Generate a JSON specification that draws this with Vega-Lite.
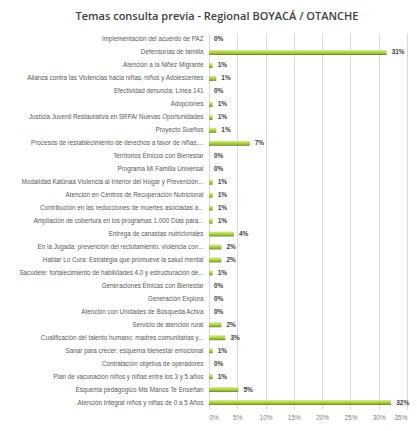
{
  "$schema": "https://vega.github.io/schema/vega-lite/v6.json",
  "autosize": "none",
  "width": 198,
  "height": 376,
  "padding": {"left": 209, "top": 33, "right": 10, "bottom": 22},
  "background": "white",
  "title": {
    "text": "Temas consulta previa - Regional BOYACÁ / OTANCHE",
    "font": "Open Sans",
    "fontSize": 11,
    "fontWeight": 600,
    "color": "#404040",
    "anchor": "middle",
    "frame": "group",
    "dx": -91,
    "offset": 11
  },
  "data": {
    "values": [
      {"tema": "Implementación del acuerdo de PAZ", "pct": 0},
      {"tema": "Defensorías de familia", "pct": 0.314},
      {"tema": "Atención a la Niñez Migrante", "pct": 0.0065},
      {"tema": "Alianza contra las Violencias hacia niñas, niños y Adolescentes", "pct": 0.013},
      {"tema": "Efectividad denuncia: Línea 141", "pct": 0},
      {"tema": "Adopciones", "pct": 0.0065},
      {"tema": "Justicia Juvenil Restaurativa en SRPA/ Nuevas Oportunidades", "pct": 0.0065},
      {"tema": "Proyecto Sueños", "pct": 0.013},
      {"tema": "Procesos de restablecimiento de derechos a favor de niñas,...", "pct": 0.072},
      {"tema": "Territorios Étnicos con Bienestar", "pct": 0},
      {"tema": "Programa Mi Familia Universal", "pct": 0},
      {"tema": "Modalidad Katünaa Violencia al Interior del Hogar y Prevención...", "pct": 0.0065},
      {"tema": "Atención en Centros de Recuperación Nutricional", "pct": 0.0065},
      {"tema": "Contribución en las reducciones de muertes asociadas a...", "pct": 0.0065},
      {"tema": "Ampliación de cobertura en los programas 1.000 Días para...", "pct": 0.0065},
      {"tema": "Entrega de canastas nutricionales", "pct": 0.044},
      {"tema": "En la Jugada: prevención del reclutamiento, violencia con...", "pct": 0.022},
      {"tema": "Hablar Lo Cura: Estrategia que promueve la salud mental", "pct": 0.022},
      {"tema": "Sacúdete: fortalecimiento de habilidades 4.0 y estructuración de...", "pct": 0.0065},
      {"tema": "Generaciones Étnicas con Bienestar", "pct": 0},
      {"tema": "Generación Explora", "pct": 0},
      {"tema": "Atención con Unidades de Búsqueda Activa", "pct": 0},
      {"tema": "Servicio de atención rural", "pct": 0.022},
      {"tema": "Cualificación del talento humano: madres comunitarias y...", "pct": 0.029},
      {"tema": "Sanar para crecer: esquema bienestar emocional", "pct": 0.0065},
      {"tema": "Contratación objetiva de operadores", "pct": 0},
      {"tema": "Plan de vacunación niños y niñas entre los 3 y 5 años", "pct": 0.0065},
      {"tema": "Esquema pedagógico Mis Manos Te Enseñan", "pct": 0.052},
      {"tema": "Atención Integral niños y niñas de 0 a 5 Años", "pct": 0.322}
    ]
  },
  "encoding": {
    "y": {
      "field": "tema",
      "type": "nominal",
      "sort": null,
      "scale": {"paddingInner": 0.6, "paddingOuter": 0.3},
      "axis": {
        "title": null,
        "domain": false,
        "ticks": false,
        "labelFont": "Liberation Sans",
        "labelFontSize": 6.3,
        "labelColor": "#595959",
        "labelPadding": 6,
        "labelLimit": 210
      }
    },
    "x": {
      "field": "pct",
      "type": "quantitative",
      "scale": {"domain": [0, 0.35], "nice": false},
      "axis": {
        "title": null,
        "format": ".0%",
        "values": [0, 0.05, 0.1, 0.15, 0.2, 0.25, 0.3, 0.35],
        "domain": false,
        "ticks": false,
        "grid": true,
        "gridColor": "#d9d9d9",
        "labelFont": "Liberation Sans",
        "labelFontSize": 6.5,
        "labelColor": "#7f7f7f",
        "labelPadding": 5
      }
    }
  },
  "layer": [
    {
      "mark": {
        "type": "bar",
        "color": {
          "gradient": "linear",
          "x1": 0, "y1": 0, "x2": 0, "y2": 1,
          "stops": [
            {"offset": 0, "color": "#d9ef8f"},
            {"offset": 0.45, "color": "#b2d34f"},
            {"offset": 0.8, "color": "#8db52d"},
            {"offset": 1, "color": "#5e7d1a"}
          ]
        },
        "height": 5
      }
    },
    {
      "mark": {
        "type": "text",
        "align": "left",
        "dx": 5,
        "font": "Liberation Sans",
        "fontSize": 6.5,
        "fontWeight": "bold",
        "color": "#404040"
      },
      "encoding": {
        "text": {"field": "pct", "type": "quantitative", "format": ".0%"}
      }
    }
  ],
  "config": {
    "view": {"stroke": null}
  }
}
